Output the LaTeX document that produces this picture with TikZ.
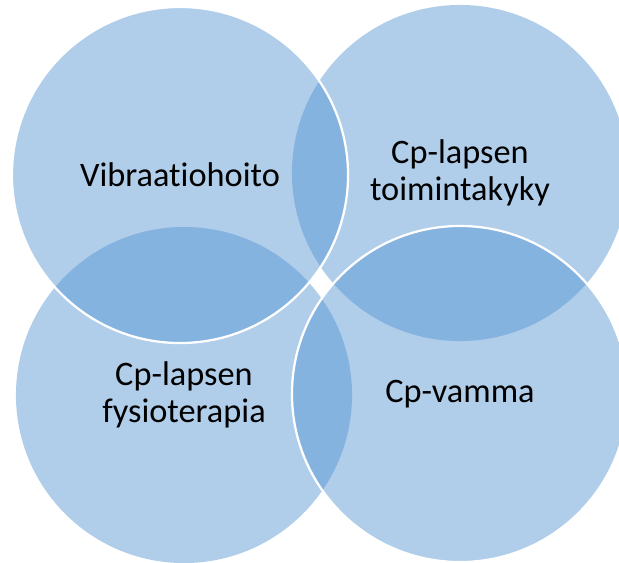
\documentclass[tikz,border=0pt]{standalone}
\usepackage{fontspec}
\setmainfont{Carlito}[Ligatures=NoCommon]
\usepackage{xcolor}
\usepackage{tikz}
\usetikzlibrary{positioning}
\definecolor{vblue}{RGB}{82,147,210}

\begin{document}
\begin{tikzpicture}[x=0.025cm, y=0.025cm,
  petal/.style={circle, inner sep=0pt, minimum size=8.4cm, fill=vblue, fill opacity=0.46,
    text opacity=1, align=center, font=\fontsize{24.4}{26.5}\selectfont},
  petaltop/.style={petal, draw=white, line width=1.6pt}]
\useasboundingbox (0,0) rectangle (619,562);
% lower layer
\node[petal] (toimintakyky) at (460,389) {Cp-lapsen\\toimintakyky};
\node[petal] (fysioterapia) at (184,167) {Cp-lapsen\\fysioterapia};
% upper layer with white rim
\node[petaltop] (vibraatio) at (180,387) {Vibraatiohoito};
\node[petaltop] (vamma) at (460,168) {Cp-vamma};
\end{tikzpicture}
\end{document}
